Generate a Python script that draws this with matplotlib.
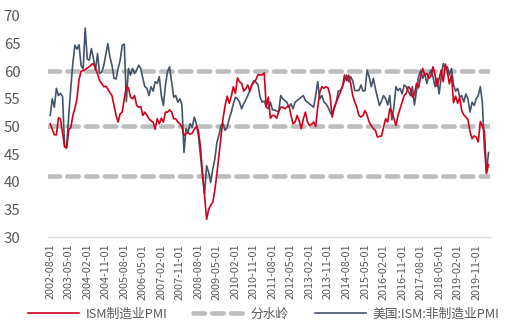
import pandas as pd
import matplotlib
matplotlib.use("Agg")
import matplotlib.pyplot as plt

plt.rcParams['font.family'] = ['Noto Sans CJK SC', 'DejaVu Sans']

# monthly readings, 2002-08 .. 2020-05
months = pd.date_range("2002-08-01", "2020-05-01", freq="MS")

ism_mfg = [
    50.5, 49.5, 48.5, 48.5, 51.6,
    51.3, 48.8, 46.3, 46.1, 49.4, 49.8, 52.0, 53.3, 55.0, 58.5, 60.0, 60.1,
    60.3, 60.6, 60.8, 61.2, 61.4, 60.5, 59.5, 58.3, 57.8, 57.2, 57.3, 56.8,
    56.1, 55.6, 53.8, 52.0, 50.8, 52.3, 52.6, 55.0, 57.2, 57.0, 55.3, 55.0,
    55.6, 53.8, 53.5, 53.6, 52.0, 52.6, 52.0, 51.4, 51.0, 50.8, 49.5, 51.4,
    50.5, 51.5, 50.8, 52.6, 52.6, 53.0, 52.6, 51.4, 51.4, 50.8, 50.5, 49.9,
    48.4, 48.7, 48.9, 48.6, 48.8, 49.5, 50.0, 49.3, 46.3, 41.5, 37.5, 33.2,
    35.0, 35.8, 36.3, 38.5, 41.5, 44.8, 48.0, 51.5, 53.8, 55.5, 54.2, 55.5,
    57.2, 56.0, 58.8, 58.1, 57.8, 56.4, 56.8, 57.5, 56.4, 57.6, 58.0, 58.5,
    59.4, 59.3, 59.3, 59.7, 53.5, 55.3, 51.5, 52.0, 52.0, 51.5, 52.6, 53.5,
    53.5, 53.2, 53.5, 53.8, 52.0, 50.5, 50.8, 52.0, 51.0, 49.6, 51.4, 52.6,
    50.8, 50.2, 50.4, 50.8, 50.0, 53.5, 56.2, 57.2, 56.9, 57.2, 57.0, 55.6,
    51.7, 53.5, 54.4, 55.3, 56.2, 57.2, 59.3, 58.3, 59.3, 57.8, 55.6, 54.4,
    53.5, 52.0, 51.7, 52.0, 52.9, 52.0, 50.8, 50.2, 49.6, 49.3, 48.1, 48.2,
    48.3, 49.9, 51.4, 50.8, 53.2, 52.6, 51.5, 50.2, 52.0, 53.2, 54.4, 55.6,
    56.0, 57.2, 56.8, 55.3, 55.8, 57.8, 57.0, 59.0, 60.5, 59.3, 59.6, 58.7,
    59.1, 60.8, 59.3, 57.3, 58.7, 60.2, 58.1, 61.3, 59.8, 57.7, 59.3, 54.3,
    55.5, 54.2, 55.3, 52.8, 52.1, 51.7, 51.2, 49.1, 47.8, 48.3, 48.1, 47.2,
    50.9, 50.1, 49.1, 41.5, 43.1,
]

ism_nonmfg = [
    52.0, 55.0, 53.5, 56.9, 55.6,
    56.0, 55.4, 46.3, 46.5, 52.0, 57.0, 61.5, 64.7, 64.0, 64.8, 61.0, 60.4,
    67.8, 62.2, 62.0, 64.1, 62.3, 60.2, 63.2, 59.6, 59.8, 61.0, 63.0, 65.0,
    62.6, 61.1, 58.7, 58.6, 60.5, 62.0, 64.7, 64.9, 54.5, 60.5, 59.3, 60.5,
    59.6, 60.2, 61.1, 60.5, 58.7, 57.2, 56.9, 55.6, 57.2, 56.4, 58.1, 57.8,
    59.0, 55.6, 53.8, 57.5, 59.9, 60.8, 58.1, 55.3, 55.6, 54.4, 55.0, 53.9,
    45.3, 49.6, 49.0, 50.5, 49.8, 51.7, 50.5, 48.4, 44.7, 41.1, 37.8, 42.9,
    41.7, 39.9, 42.3, 44.1, 47.1, 48.4, 50.2, 50.5, 49.3, 49.9, 51.4, 52.6,
    54.1, 55.3, 55.0, 54.4, 53.2, 54.1, 54.8, 55.6, 56.5, 57.5, 58.3, 58.0,
    57.5, 55.3, 54.4, 54.6, 53.5, 53.2, 54.4, 53.0, 53.0, 52.8, 52.6, 55.6,
    55.0, 54.7, 54.4, 53.5, 54.1, 53.2, 54.4, 54.7, 55.0, 55.3, 55.6, 54.7,
    54.4, 54.1, 53.8, 53.5, 55.6, 58.1, 55.0, 55.6, 54.4, 54.1, 53.5, 52.6,
    52.0, 53.2, 54.4, 56.4, 56.5, 57.2, 58.3, 59.3, 58.1, 59.0, 58.3, 56.5,
    56.5, 56.5, 57.5, 56.4, 56.5, 60.2, 59.0, 57.2, 58.7, 56.9, 55.3, 53.8,
    54.6, 55.6, 55.0, 53.9, 55.6, 51.2, 53.5, 57.2, 56.5, 56.9, 55.9, 57.5,
    57.2, 56.4, 55.6, 57.2, 53.9, 56.4, 59.0, 60.2, 58.7, 59.6, 57.8, 59.3,
    60.2, 59.0, 57.2, 58.7, 55.9, 59.0, 61.4, 60.5, 60.8, 59.3, 60.5, 57.5,
    56.4, 56.9, 55.3, 55.6, 54.4, 55.9, 55.0, 52.6, 54.4, 53.8, 55.0, 55.6,
    57.2, 54.4, 46.0, 41.7, 45.3,
]

thresholds = [60, 50, 41]

red = '#D0021B'
slate = '#44546A'
grey_dash = '#BDBDBD'
txt = '#595959'

x = list(range(len(months)))
tick_pos = x[::9]
tick_labels = [d.strftime('%Y-%m-%d') for d in months[::9]]

fig = plt.figure(figsize=(5.07, 3.32), dpi=100)
ax = fig.add_axes([0.095, 0.286, 0.871, 0.666])

ax.plot(x, ism_mfg, color=red, lw=1.2, label='ISM制造业PMI', zorder=3)
for i, lvl in enumerate(thresholds):
    ax.axhline(lvl, color=grey_dash, lw=3.3, ls=(0, (2.5, 1.6)),
               dash_capstyle='round', zorder=1,
               label='分水岭' if i == 0 else None)
ax.plot(x, ism_nonmfg, color=slate, lw=1.2, label='美国:ISM:非制造业PMI', zorder=2)

ax.set_xlim(-1, 213.6)
ax.set_ylim(30, 70)
ax.set_yticks(range(30, 71, 5))
ax.set_xticks(tick_pos)
ax.set_xticklabels(tick_labels, rotation=90, fontsize=7.8, color=txt)
ax.tick_params(axis='y', length=0, pad=20, labelsize=10.8, labelcolor=txt)
ax.tick_params(axis='x', length=0, pad=5)

for side in ('top', 'right', 'left'):
    ax.spines[side].set_visible(False)
ax.spines['bottom'].set_color('#D9D9D9')
ax.spines['bottom'].set_linewidth(1.0)

# legend order: red, dashed, slate
h, l = ax.get_legend_handles_labels()
fig.legend(h, l, loc='lower center', bbox_to_anchor=(0.52, 0.0), ncol=3,
           frameon=False, fontsize=9.2, labelcolor=txt, handlelength=4.0,
           handletextpad=0.5, columnspacing=2.0)

fig.savefig('out.png', dpi=100)
